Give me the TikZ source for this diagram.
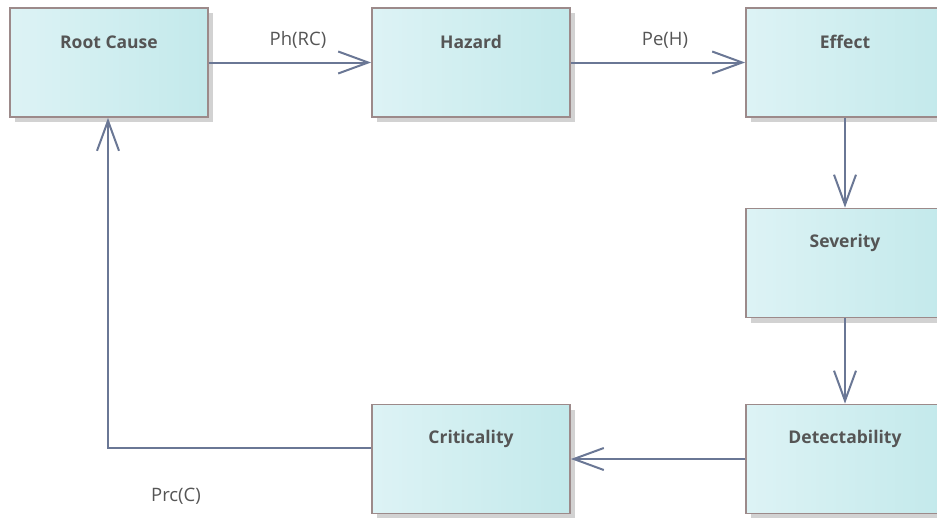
\documentclass[tikz,border=0pt]{standalone}
\usepackage{fontspec}
\setmainfont{Open Sans}
\usetikzlibrary{arrows.meta,shadows}
\definecolor{boxleft}{HTML}{DDF3F5}
\definecolor{boxright}{HTML}{C3E9EB}
\definecolor{boxedge}{HTML}{9C8A8A}
\definecolor{shade}{HTML}{D2D2D2}
\definecolor{linkcol}{HTML}{6A7795}
\definecolor{txt}{HTML}{555555}
\tikzset{
  block/.style={rectangle, minimum width=198pt, minimum height=109pt, inner sep=0pt,
    left color=boxleft, right color=boxright, draw=boxedge, line width=1.8pt,
    drop shadow={shadow xshift=5pt, shadow yshift=-5pt, fill=shade, opacity=1}},
  title/.style={text=txt, font=\fontsize{17.5}{20}\selectfont\bfseries},
  link/.style={draw=linkcol, line width=2pt,
    -{Straight Barb[length=30pt,width=22pt,line width=2pt]}},
  flow/.style={text=txt, font=\fontsize{18.5}{21}\selectfont}
}
\begin{document}
\begin{tikzpicture}[x=1pt,y=-1pt]
\useasboundingbox (0,0) rectangle (937,517);
\clip (0,0) rectangle (937,517);
% the six elements of the chain
\node[block, label={[title, anchor=center, yshift=-35pt]north:Root Cause}] (root) at (109,62.5) {};
\node[block, label={[title, anchor=center, yshift=-35pt]north:Hazard}] (haz) at (471,62.5) {};
\node[block, label={[title, anchor=center, yshift=-35pt]north:Effect}] (eff) at (845,62.5) {};
\node[block, label={[title, anchor=center, yshift=-35pt]north:Severity}] (sev) at (845,263) {};
\node[block, label={[title, anchor=center, yshift=-35pt]north:Detectability}] (det) at (845,459) {};
\node[block, label={[title, anchor=center, yshift=-35pt]north:Criticality}] (crit) at (471,459) {};
% probability links
\draw[link] (root.east) -- node[flow, above=10pt, xshift=8pt] {Ph(RC)} (haz.west);
\draw[link] (haz.east) -- node[flow, above=10pt, xshift=7pt] {Pe(H)} (eff.west);
\draw[link] (eff.south) -- (sev.north);
\draw[link] (sev.south) -- (det.north);
\draw[link] (det.west) -- (crit.east);
\coordinate (bend) at (108,448);
\draw[link] (crit.west |- bend) -- (bend) -- (root.south -| bend);
\node[flow] (prc) at (176,496) {Prc(C)};
\end{tikzpicture}
\end{document}
